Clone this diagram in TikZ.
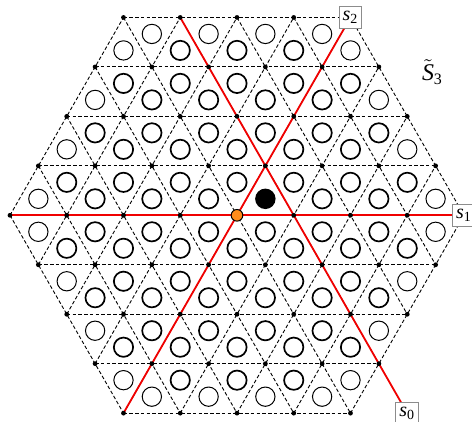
\documentclass[tikz,border=0pt]{standalone}
\usepackage{fontspec}
\setmainfont{Liberation Serif}
\usepackage{tikz}
\definecolor{wall}{HTML}{F00000}
\definecolor{origin}{HTML}{FF8C1A}
\definecolor{frame}{HTML}{8C8C8C}
\pgfmathdeclarefunction{hexd}{2}{\pgfmathparse{max(abs(#1),abs(#2),abs((#1)+(#2)))}}

\begin{document}
\begin{tikzpicture}[x={(1cm,0cm)},y={(0.5cm,0.8716cm)},
    grid/.style={black,line width=.45pt,dash pattern=on 1.8pt off 1.1pt},
    wall line/.style={draw=wall,line width=.9pt},
    label box/.style={draw=frame,fill=white,line width=.5pt,inner sep=1.8pt,minimum height=11pt}]
  \useasboundingbox (-4.176cm,-3.642cm) rectangle (4.141cm,3.794cm);

  \foreach \j in {-4,...,4}{
    \draw[grid] ({max(-4,-4-(\j))},\j) -- ({min(4,4-(\j))},\j);
    \draw[grid] (\j,{max(-4,-4-(\j))}) -- (\j,{min(4,4-(\j))});
    \draw[grid] ({max(-4,(\j)-4)},{(\j)-max(-4,(\j)-4)}) -- ({min(4,(\j)+4)},{(\j)-min(4,(\j)+4)});
  }

  \foreach \i in {-4,...,3}
    \foreach \j in {-4,...,3}{
      \pgfmathtruncatemacro\dmax{max(hexd(\i,\j),hexd(\i+1,\j),hexd(\i,\j+1))+9*(\i==0)*(\j==0)}
      \pgfmathtruncatemacro\nb{(hexd(\i,\j)==4)+(hexd(\i+1,\j)==4)+(hexd(\i,\j+1)==4)}
      \pgfmathsetmacro\lw{\nb>1 ? .5 : .85}
      \ifnum\dmax<5 \draw[line width=\lw pt] (\i+1/3,\j+1/3) circle (0.17cm); \fi
      \pgfmathtruncatemacro\dmax{max(hexd(\i+1,\j),hexd(\i,\j+1),hexd(\i+1,\j+1))}
      \pgfmathtruncatemacro\nb{(hexd(\i+1,\j)==4)+(hexd(\i,\j+1)==4)+(hexd(\i+1,\j+1)==4)}
      \pgfmathsetmacro\lw{\nb>1 ? .5 : .85}
      \ifnum\dmax<5 \draw[line width=\lw pt] (\i+2/3,\j+2/3) circle (0.17cm); \fi
    }

  \coordinate (w1) at (-4,0);
  \coordinate (w2) at (0,-4);
  \coordinate (w0) at (-3,4);
  \coordinate (c1) at (4,0);
  \coordinate (c2) at (0,4);
  \coordinate (c0) at (5,-4);
  \draw[wall line] (w1) -- (c1);
  \draw[wall line] (w2) -- (c2);
  \draw[wall line] (w0) -- (c0);

  \foreach \i in {-4,...,4}
    \foreach \j in {-4,...,4}{
      \pgfmathtruncatemacro\hd{hexd(\i,\j)}
      \ifnum\hd<5 \fill (\i,\j) circle (1.2pt); \fi
    }

  \node[label box] (s1) at (c1) {$\mathit{s}_{\mathrm{1}}$};
  \node[label box] (s2) at (c2) {$\mathit{s}_{\mathrm{2}}$};
  \node[label box] (s0) at (c0) {$\mathit{s}_{\mathrm{0}}$};

  \node[circle,fill=origin,draw=black,line width=.5pt,inner sep=0pt,minimum size=2.05mm] (e) at (0,0) {};
  \node[circle,fill=black,inner sep=0pt,minimum size=3.6mm] (alc) at (1/3,1/3) {};
  \node (grp) at (3.445cm,2.53cm) {\large$\tilde{\mathit{S}}_{\mathrm{3}}$};
\end{tikzpicture}
\end{document}
